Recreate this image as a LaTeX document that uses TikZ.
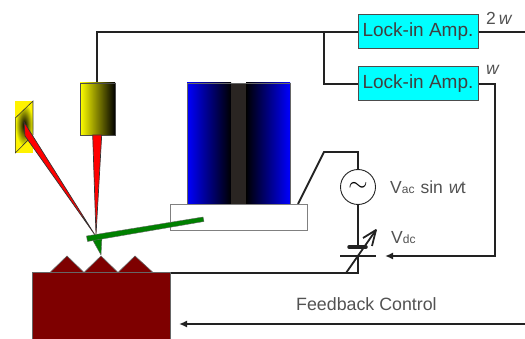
\documentclass[tikz,border=0pt]{standalone}
\usepackage{fontspec}
\setmainfont{Liberation Sans}
\usetikzlibrary{arrows.meta,shadings}
\colorlet{txt}{black!68}
\definecolor{wire}{HTML}{222222}
\definecolor{samp}{HTML}{7E0000}
\definecolor{amp}{HTML}{00FFFF}
\definecolor{core}{HTML}{2A2522}
\tikzset{
 x=1pt,y=-1pt,
 wirel/.style={draw=wire,line width=1.8pt},
 ampbox/.style={draw=black!70,line width=1pt,fill=amp,minimum width=120pt,minimum height=34pt,inner sep=0pt,text=black!75,font=\fontsize{19}{20}\selectfont},
 lbl/.style={inner sep=0pt,anchor=west,text=txt},
 beam/.style={fill=red,draw=black!80,line width=.7pt},
 arrowl/.style={wirel,-{Latex[length=8pt,width=7pt]}},
}
\begin{document}
\begin{tikzpicture}
\useasboundingbox (0,0) rectangle (525,339);
% nodes
\node[ampbox] (a1) at (418,32) {Lock-in Amp.};
\node[ampbox] (a2) at (418,84) {Lock-in Amp.};
\node[draw=wire,line width=.9pt,circle,minimum size=35pt,inner sep=0pt,font=\fontsize{24}{24}\selectfont] (ac) at (358,187) {$\sim$};
\coordinate (top) at (97,83);
\coordinate (jn) at (324,32);
\coordinate (out1) at (525,32);
\coordinate (cor) at (495,84);
\coordinate (fbin) at (385,256);
\coordinate (plateA) at (358,247);
\coordinate (plateB) at (358,256);
\coordinate (gnd) at (358,273);
\coordinate (gndl) at (170,273);
\coordinate (acup) at (358,152);
\coordinate (acl) at (324,152);
\coordinate (pz) at (298,204);
\coordinate (fbr) at (525,324);
\coordinate (fbl) at (179,324);
% wires
\draw[wirel] (top) |- (a1.west);
\draw[wirel] (a1.east) -- (out1);
\draw[wirel] (jn) |- (a2.west);
\draw[arrowl] (a2.east) -| (cor) |- (fbin);
\draw[wirel] (ac.north) -- (acup) -- (acl) -- (pz);
\draw[wirel,line width=1.3pt] (ac.south) -- (plateA);
\draw[wirel,line width=1.3pt] (plateB) -- (gnd);
\draw[wirel,line cap=rect] (gndl) -- (gnd);
\draw[draw=wire,line width=3.5pt,line cap=round] (349,247) -- (366,247);
\draw[draw=wire,line width=1.8pt] (340,256) -- (376,256);
\draw[draw=wire,line width=1.8pt] (346,273) -- (376,230);
\draw[draw=wire,line width=1.8pt,line join=round] (363,238) -- (376,230) -- (372,246);
% piezo
\draw[draw=black!50,line width=.8pt,fill=white] (170,204) rectangle (307,230);
\shade[left color=blue,right color=black] (187,83) rectangle (231,204);
\shade[left color=black,right color=blue] (246,83) rectangle (290,204);
\fill[core] (231,83) rectangle (246,204);
\draw[draw=black!60,line width=.7pt] (187,204) -- (187,83) -- (290,83) -- (290,204);
% laser
\shade[left color=yellow,right color=black] (80,83) rectangle (115,135);
\draw[draw=black!70,line width=.7pt] (80,83) rectangle (115,135);
\path[beam] (92.7,135) -- (101.7,135) -- (96,235) -- cycle;
% detector
\fill[yellow] (15.3,101) rectangle (33,153);
\begin{scope}
\clip (15.3,118) -- (33,101) -- (33,135) -- (15.3,153) -- cycle;
\shade[inner color=black,outer color=yellow] (24.2,125) ellipse (9pt and 22pt);
\end{scope}
\draw[draw=black!80,line width=.6pt] (15.3,153) -- (15.3,118) -- (33,101) -- (33,135) -- cycle;
\path[beam] (24,122) -- (25,136) -- (95,235) -- cycle;
% sample
\fill[samp,draw=black!60,line width=.6pt] (50,272.5) -- (67,256) -- (84,272.5) -- (101,256) -- (118,272.5) -- (135,256) -- (153,272.5) -- cycle;
\path[fill=samp,draw=black!60,line width=.8pt] (32.5,339.5) -- (32.5,272.5) -- (170,272.5) -- (170,339.5);
% cantilever
\path[fill=green!50!black,draw=black!60,line width=.4pt] (91.5,238) -- (102,236.5) -- (101,255) -- cycle;
\path[fill=green!50!black,draw=black!60,line width=.4pt] (86.5,236) -- (203,217) -- (204,221.5) -- (87.5,241.5) -- cycle;
% feedback
\draw[arrowl] (fbr) -- (fbl);
% labels
\node[lbl,font=\fontsize{17.8}{18}\selectfont] at (296,304) {Feedback Control};
\node[lbl,font=\fontsize{17.5}{18}\selectfont] at (486,18) {2\,\textit{w}};
\node[lbl,font=\fontsize{17.5}{18}\selectfont] at (486,70) {\textit{w}};
\node[lbl,font=\fontsize{17.5}{18}\selectfont] at (390,187) {V{\fontsize{12}{12}\selectfont ac}\kern6pt sin\kern6pt \textit{w}\kern-1.5pt t};
\node[lbl,font=\fontsize{17.5}{18}\selectfont] at (391,238) {V{\fontsize{12}{12}\selectfont dc}};
\end{tikzpicture}
\end{document}
